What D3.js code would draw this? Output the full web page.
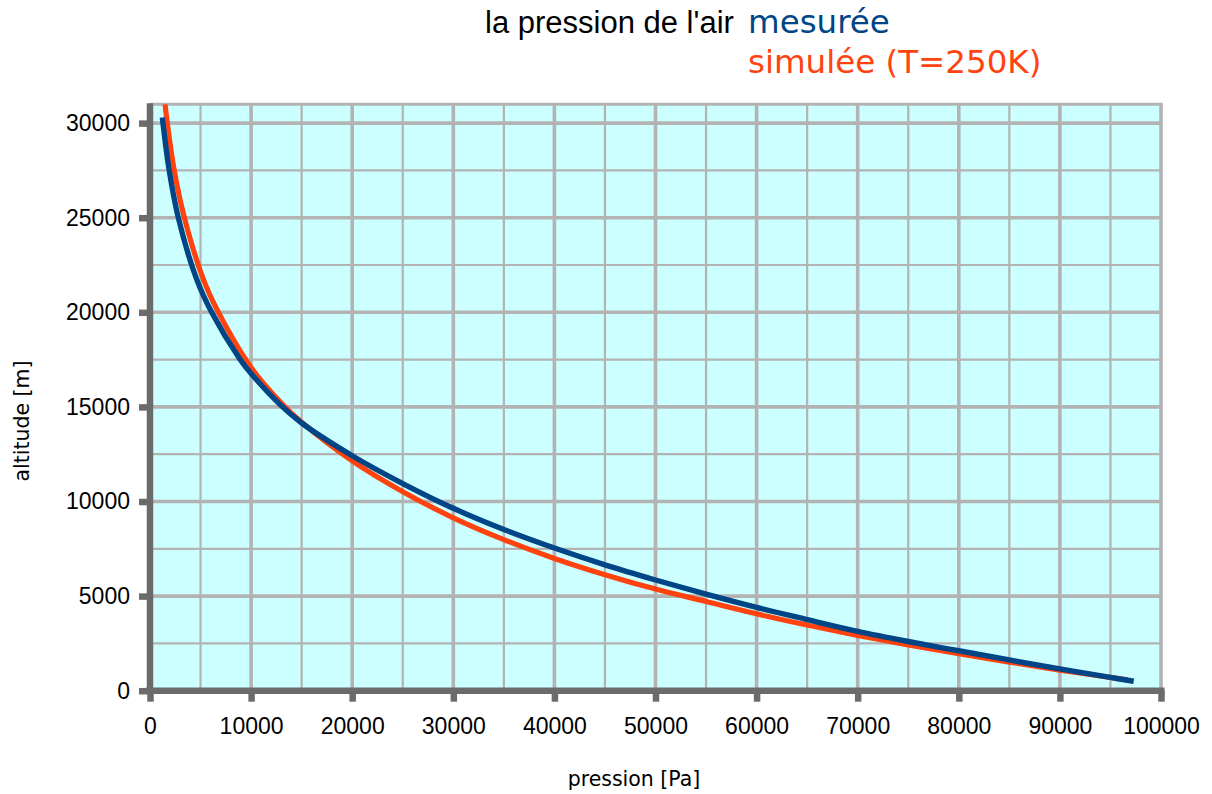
<!DOCTYPE html>
<html>
<head>
<meta charset="utf-8">
<script src="https://cdn.jsdelivr.net/npm/d3@7"></script>
<style>
  body { margin: 0; background: #fff; }
  svg { display: block; }
</style>
</head>
<body>
<svg></svg>
<script>
// measured curve (pressure in Pa, altitude in m)
const measuredPressure = [1220, 1900, 2800, 4620, 6100, 8900, 10000, 12870, 15000, 20000, 25000, 30000, 35000, 40000, 45000, 50000, 55000, 60000, 65000, 70000, 75000, 80000, 85000, 90000, 95000, 97300];
const measuredAltitude = [30300, 27500, 25000, 21740, 20000, 17520, 16760, 15120, 14150, 12420, 10950, 9640, 8520, 7540, 6650, 5850, 5100, 4400, 3760, 3135, 2600, 2110, 1625, 1150, 700, 500];

// simulated curve, T = 250 K
const simPressure = [1485, 1710, 2375, 3400, 5280, 6760, 10000, 13200, 15000, 20000, 25000, 30000, 35000, 40000, 45000, 50000, 55000, 60000, 65000, 70000, 75000, 80000, 85000, 90000, 95000, 96700];
const simAltitude = [31000, 30010, 27560, 25000, 21740, 20000, 17080, 15090, 14190, 12150, 10520, 9140, 7985, 6990, 6130, 5370, 4715, 4065, 3470, 2920, 2420, 1955, 1510, 1090, 700, 575];

const xTicks = [0, 10000, 20000, 30000, 40000, 50000, 60000, 70000, 80000, 90000, 100000];
const yTicks = [0, 5000, 10000, 15000, 20000, 25000, 30000];
const xGrid = d3.range(5000, 100001, 5000);
const yGrid = d3.range(2500, 30001, 2500);

const titleText = "la pression de l'air";
const seriesNames = ["mesurée", "simulée (T=250K)"];
const xTitle = "pression [Pa]";
const yTitle = "altitude [m]";

let width = 1212,
    height = 794;

let blue = '#004586',
    orange = '#ff420e',
    gridColor = '#b3b3b3',
    axisColor = '#6b6b6b';

let x = d3.scaleLinear().domain([0, 100000]).range([150, 1161]);
let y = d3.scaleLinear().domain([0, 31000]).range([690.7, 104.2]);

let svg = d3.select('svg')
    .attr('width', width)
    .attr('height', height);

svg.append('defs').append('clipPath')
    .attr('id', 'plotclip')
    .append('rect')
    .attr('x', x(0))
    .attr('y', y(31000))
    .attr('width', x(100000) - x(0))
    .attr('height', y(0) - y(31000));

// plot background
svg.append('rect')
    .attr('x', x(0))
    .attr('y', y(31000))
    .attr('width', x(100000) - x(0))
    .attr('height', y(0) - y(31000))
    .attr('fill', '#ccffff');

let grid = svg.append('g');

grid.selectAll('line.vg')
    .data(xGrid).enter()
    .append('line')
    .attr('class', 'vg')
    .attr('x1', d => x(d)).attr('x2', d => x(d))
    .attr('y1', y(31000)).attr('y2', y(0))
    .attr('stroke', gridColor)
    .attr('stroke-width', d => d % 10000 === 0 ? 3.6 : 2.2);

grid.selectAll('line.hg')
    .data(yGrid).enter()
    .append('line')
    .attr('class', 'hg')
    .attr('x1', x(0)).attr('x2', x(100000))
    .attr('y1', d => y(d)).attr('y2', d => y(d))
    .attr('stroke', gridColor)
    .attr('stroke-width', d => d % 5000 === 0 ? 3.6 : 2.2);

// top border of the plot
grid.append('line')
    .attr('x1', x(0)).attr('x2', x(100000) + 1.8)
    .attr('y1', y(31000)).attr('y2', y(31000))
    .attr('stroke', gridColor)
    .attr('stroke-width', 3);

// curves
let lineGen = d3.line()
    .x(d => x(d[0]))
    .y(d => y(d[1]))
    .curve(d3.curveCatmullRom.alpha(0.5));

let curves = svg.append('g').attr('clip-path', 'url(#plotclip)');

let simPts = simPressure.map((p, i) => [p, simAltitude[i]]);
let measPts = measuredPressure.map((p, i) => [p, measuredAltitude[i]]);

curves.append('path')
    .datum(simPts)
    .attr('d', lineGen)
    .attr('fill', 'none')
    .attr('stroke', orange)
    .attr('stroke-width', 5.2);

curves.append('path')
    .datum(measPts)
    .attr('d', lineGen)
    .attr('fill', 'none')
    .attr('stroke', blue)
    .attr('stroke-width', 5.4);

// axes
let xAxis = svg.append('g')
    .attr('transform', 'translate(0,' + y(0) + ')')
    .call(d3.axisBottom(x).tickValues(xTicks).tickSize(11).tickSizeOuter(0).tickPadding(16)
        .tickFormat(d3.format('d')));

let yAxis = svg.append('g')
    .attr('transform', 'translate(' + x(0) + ',0)')
    .call(d3.axisLeft(y).tickValues(yTicks).tickSize(11).tickSizeOuter(0).tickPadding(9)
        .tickFormat(d3.format('d')));

xAxis.call(g => g.select('.domain')
        .attr('d', 'M' + (x(0) - 4) + ',0H' + (x(100000) + 3.5))
        .attr('stroke', axisColor).attr('stroke-width', 6.5))
    .call(g => g.selectAll('.tick line').attr('stroke', axisColor).attr('stroke-width', 6.5))
    .call(g => g.selectAll('.tick text')
        .attr('fill', '#000')
        .style('font-family', '"Liberation Sans", Arial, sans-serif')
        .style('font-size', '23px'));

yAxis.call(g => g.select('.domain')
        .attr('d', 'M0,' + (y(31000) - 1) + 'V' + (y(0) + 3.5))
        .attr('stroke', axisColor).attr('stroke-width', 6.5))
    .call(g => g.selectAll('.tick line').attr('stroke', axisColor).attr('stroke-width', 6.5))
    .call(g => g.selectAll('.tick text')
        .attr('fill', '#000')
        .style('font-family', '"Liberation Sans", Arial, sans-serif')
        .style('font-size', '23px'));

// titles
svg.append('text')
    .attr('x', 485)
    .attr('y', 33)
    .style('font-family', '"Liberation Sans", Arial, sans-serif')
    .style('font-size', '31px')
    .attr('fill', '#000')
    .text(titleText);

svg.append('text')
    .attr('x', 748)
    .attr('y', 33)
    .style('font-family', '"DejaVu Sans", sans-serif')
    .style('font-size', '32.5px')
    .attr('fill', blue)
    .text(seriesNames[0]);

svg.append('text')
    .attr('x', 748)
    .attr('y', 73)
    .style('font-family', '"DejaVu Sans", sans-serif')
    .style('font-size', '32.5px')
    .attr('fill', orange)
    .text(seriesNames[1]);

svg.append('text')
    .attr('x', 634)
    .attr('y', 786)
    .attr('text-anchor', 'middle')
    .style('font-family', '"DejaVu Sans", sans-serif')
    .style('font-size', '20.5px')
    .attr('fill', '#000')
    .text(xTitle);

svg.append('text')
    .attr('transform', 'translate(29,421) rotate(-90)')
    .attr('text-anchor', 'middle')
    .style('font-family', '"DejaVu Sans", sans-serif')
    .style('font-size', '20.5px')
    .attr('fill', '#000')
    .text(yTitle);
</script>
</body>
</html>
